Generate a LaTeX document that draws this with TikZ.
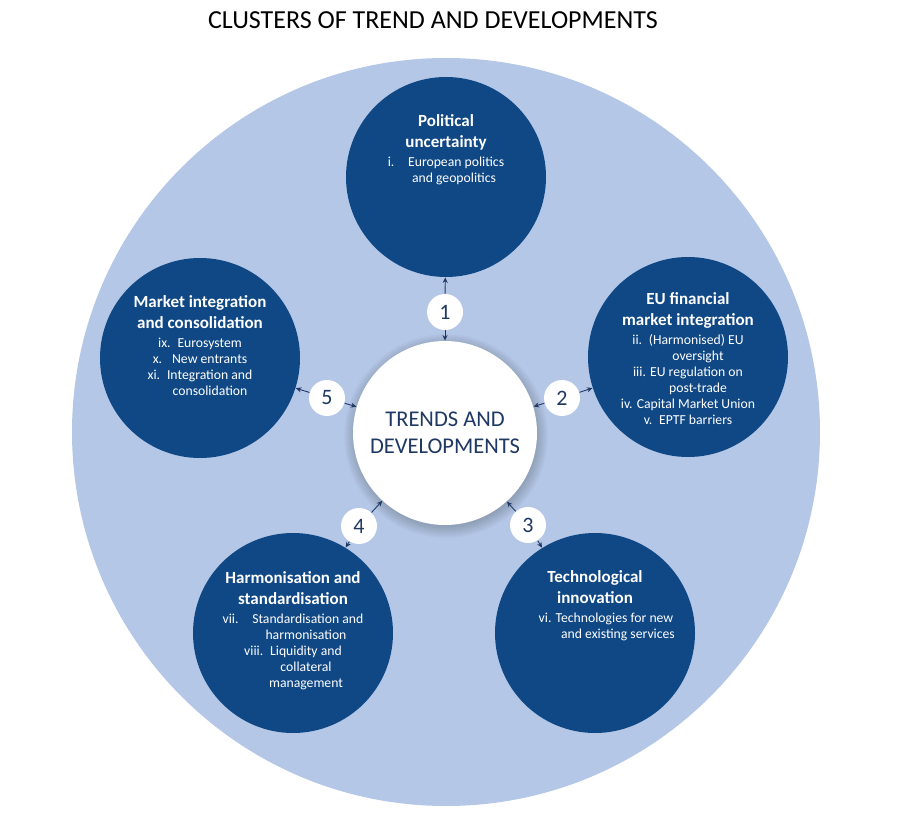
\documentclass[tikz,border=0pt]{standalone}
\usepackage{fontspec}
\setmainfont{Carlito}
\usetikzlibrary{arrows.meta}

\definecolor{lightblue}{HTML}{B4C7E7}
\definecolor{darkblue}{RGB}{16,72,133}
\definecolor{navy}{HTML}{1F3864}

\newcommand{\hd}{\bfseries\fontsize{17}{21}\selectfont}
\newcommand{\sh}[1]{\hspace*{#1pt}}

\begin{document}
\begin{tikzpicture}[x=1pt,y=-1pt,->,>={Stealth[length=5.5pt,width=5pt]},draw=navy,line width=0.9pt]
    \tikzstyle{cluster}=[circle,fill=darkblue,minimum size=200pt,inner sep=0pt]
    \tikzstyle{number}=[circle,fill=white,minimum size=36pt,inner sep=0pt,text=navy,font=\fontsize{22}{22}\selectfont]
    \tikzstyle{annot}=[text=white,align=center,anchor=north,font=\fontsize{13.7}{16}\selectfont]

    \useasboundingbox (0,0) rectangle (900,818);

    % Title
    \node[font=\fontsize{26}{26}\selectfont] (title) at (433,20) {CLUSTERS OF TREND AND DEVELOPMENTS};

    % Background disc
    \fill[lightblue] (446,432) circle (374);

    % Draw the cluster circles
    \foreach \name / \x / \y in {1/446/177,2/688/357,3/595/633,4/293/633,5/200/358}
        \node[cluster] (C-\name) at (\x,\y) {};

    % Shadow and centre circle
    \foreach \r in {1,...,12}
        \fill[black,opacity=0.014] (446,436) circle (90+\r);
    \node[circle,fill=white,minimum size=184pt,inner sep=0pt,text=navy,align=center,
          font=\fontsize{22.5}{27}\selectfont] (T) at (445,433) {TRENDS AND\\DEVELOPMENTS};

    % Cluster texts
    \node[annot] at ([yshift=-34pt]C-1.north)
        {{\hd Political}\\[5pt]{\hd uncertainty}\\[3pt]i.\quad European politics\\\sh{16}and geopolitics};
    \node[annot] at ([yshift=-32pt]C-2.north)
        {{\hd EU financial}\\[5pt]{\hd market integration}\\[3pt]ii.\enspace(Harmonised) EU\\\sh{20}oversight\\
         iii. EU regulation on\\\sh{20}post-trade\\iv. Capital Market Union\\v.\enspace EPTF barriers};
    \node[annot] at ([yshift=-34pt]C-3.north)
        {{\hd Technological}\\[5pt]{\hd innovation}\\[3pt]\sh{22}vi. Technologies for new\\\sh{46}and existing services};
    \node[annot] at ([yshift=-35pt]C-4.north)
        {{\hd Harmonisation and}\\[5pt]{\hd standardisation}\\[3pt]vii.\quad Standardisation and\\\sh{26}harmonisation\\
         viii.\enspace Liquidity and\\\sh{26}collateral\\\sh{26}management};
    \node[annot] at ([yshift=-34pt]C-5.north)
        {{\hd Market integration}\\[5pt]{\hd and consolidation}\\[3pt]ix.\enspace Eurosystem\\x.\enspace\ New entrants\\
         xi.\enspace Integration and\\\sh{20}consolidation};

    % Draw the numbered links
    \foreach \name / \x / \y in {1/445/312,2/562/398,3/528/525,4/359/526,5/327/398}
        \node[number] (N-\name) at (\x,\y) {\name};

    \foreach \name in {1,...,5}
    {
        \path (N-\name) edge (T);
        \path (N-\name) edge (C-\name);
    }
\end{tikzpicture}
\end{document}
